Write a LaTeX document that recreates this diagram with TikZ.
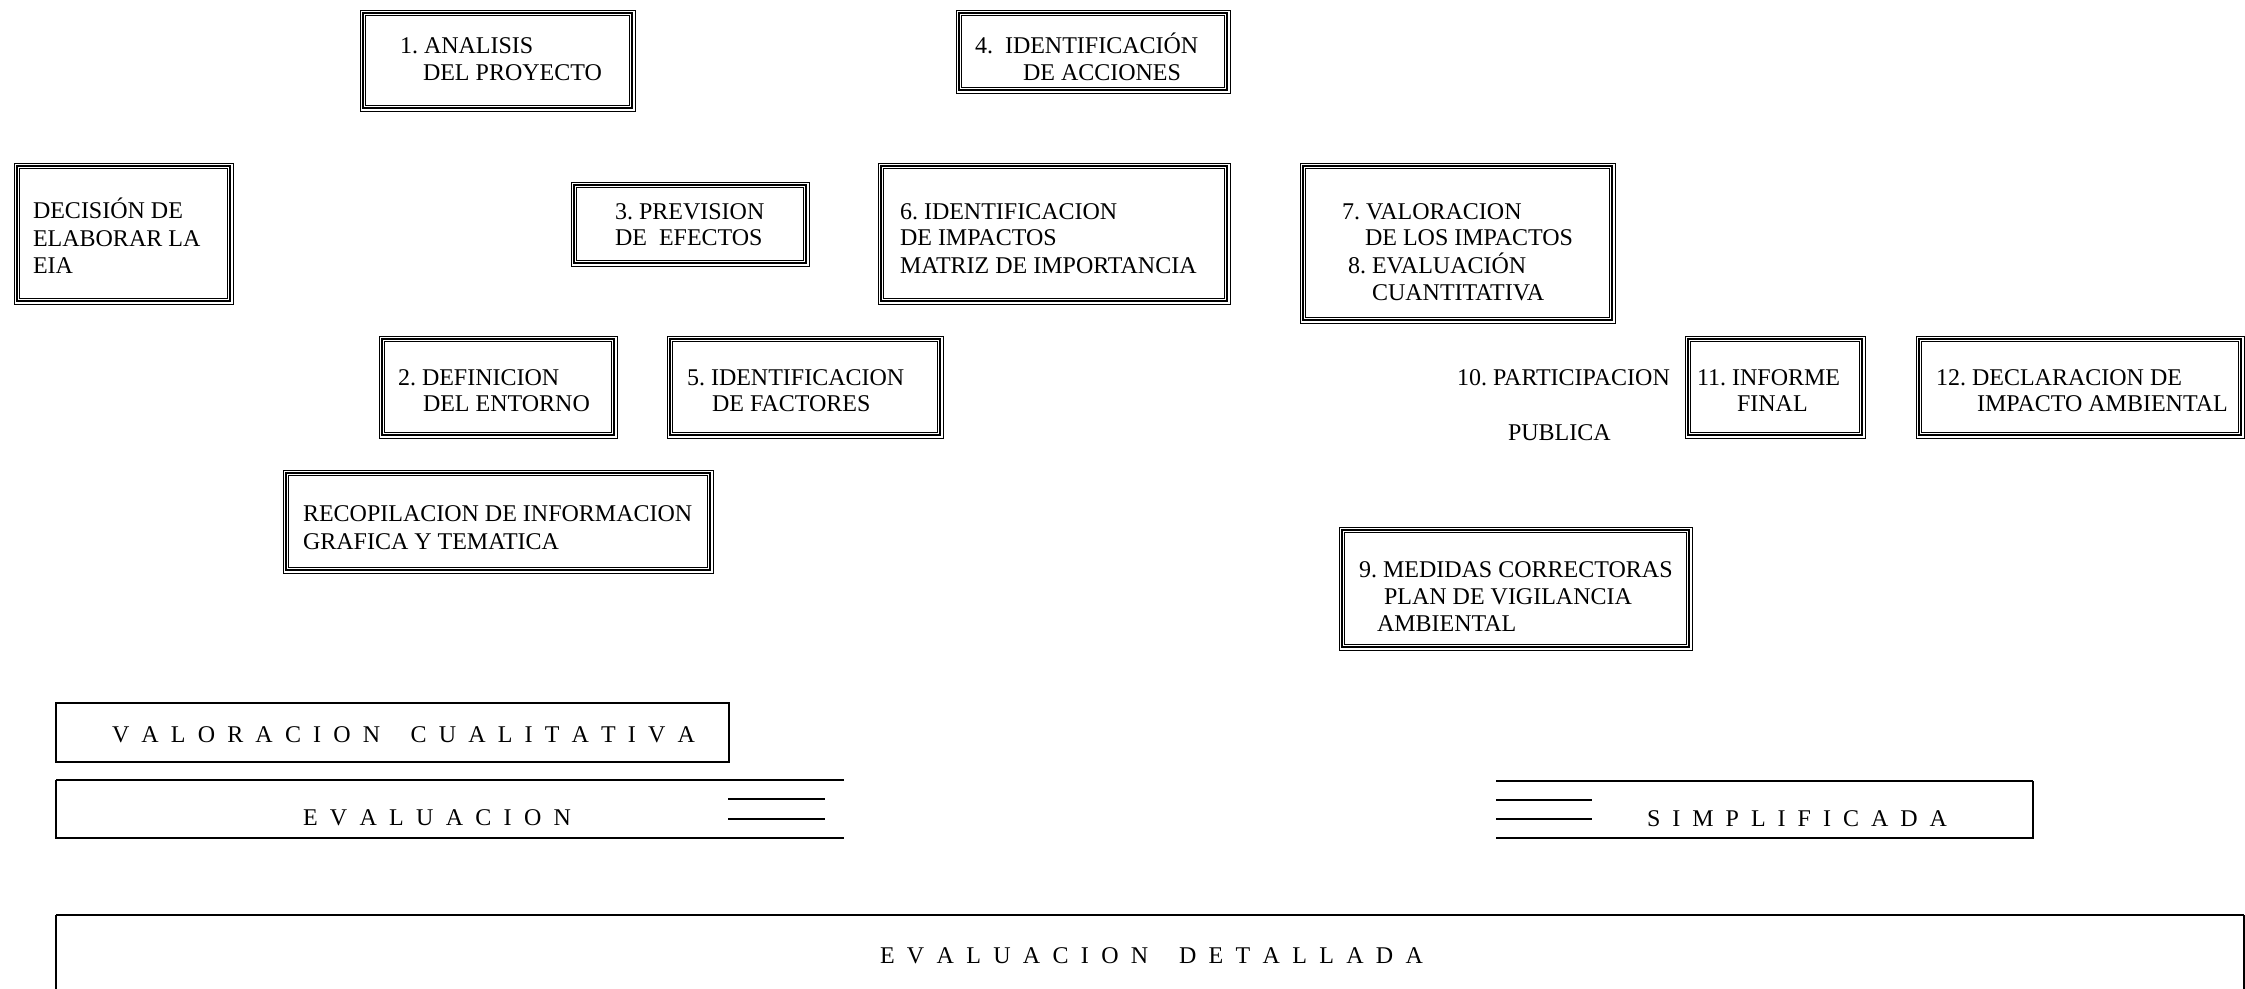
\documentclass[tikz,border=0pt]{standalone}
\usepackage{fontspec}
\setmainfont{Liberation Serif}
\tikzset{
  frameA/.style={draw, line width=1pt, inner sep=0pt, outer sep=0pt, anchor=north west},
  frameB/.style={line width=2.2pt},
  frameC/.style={line width=1pt},
  txt/.style={inner sep=0pt, outer sep=0pt, anchor=base west, font=\fontsize{24}{28}\selectfont\frenchspacing},
  bandthick/.style={line width=2pt},
  bandthin/.style={line width=1.4pt},
}
\newcommand\tribox[5]{%
  \node[frameA, minimum width={#4-#2}, minimum height={#5-#3}] (#1) at (#2,#3) {};
  \draw[frameB] ([shift={(2.7,2.7)}]#1.north west) rectangle ([shift={(-2.7,-2.7)}]#1.south east);
  \draw[frameC] ([shift={(5.8,5.8)}]#1.north west) rectangle ([shift={(-5.8,-5.8)}]#1.south east);
}
\newcommand\tln[4]{\node[txt] (#1) at (#2,#3+8) {#4};}
\newcommand\wgap{\hskip0pt plus 2.5fil\relax}
\begin{document}
\frenchspacing
\begin{tikzpicture}[x=1pt,y=-1pt]
\useasboundingbox (0,0) rectangle (2245,988);
\fill[white] (0,0) rectangle (2245,988);

% boxes
\tribox{b1}{360}{10}{635}{111}
\tln{b1a}{400}{45}{1. ANALISIS}
\tln{b1b}{423}{72}{DEL PROYECTO}

\tribox{b4}{956}{10}{1230}{93}
\tln{b4a}{975}{45}{4.\ \ IDENTIFICACIÓN}
\tln{b4b}{1023}{72}{DE ACCIONES}

\tribox{dec}{14}{163}{233}{304}
\tln{deca}{33}{210}{DECISIÓN DE}
\tln{decb}{33}{238}{ELABORAR LA}
\tln{decc}{33}{265}{EIA}

\tribox{b3}{571}{182}{809}{266}
\tln{b3a}{615}{211}{3. PREVISION}
\tln{b3b}{615}{237}{DE\ \ EFECTOS}

\tribox{b6}{878}{163}{1230}{304}
\tln{b6a}{900}{211}{6. IDENTIFICACION}
\tln{b6b}{900}{237}{DE IMPACTOS}
\tln{b6c}{900}{265}{MATRIZ DE IMPORTANCIA}

\tribox{b7}{1300}{163}{1615}{323}
\tln{b7a}{1342}{211}{7. VALORACION}
\tln{b7b}{1365}{237}{DE LOS IMPACTOS}
\tln{b7c}{1348}{265}{8. EVALUACIÓN}
\tln{b7d}{1372}{292}{CUANTITATIVA}

\tribox{b2}{379}{336}{617}{438}
\tln{b2a}{398}{377}{2. DEFINICION}
\tln{b2b}{423}{403}{DEL ENTORNO}

\tribox{b5}{667}{336}{943}{438}
\tln{b5a}{687}{377}{5. IDENTIFICACION}
\tln{b5b}{712}{403}{DE FACTORES}

\tln{p10a}{1457}{377}{10. PARTICIPACION}
\tln{p10b}{1508}{432}{PUBLICA}

\tribox{b11}{1685}{336}{1865}{438}
\tln{b11a}{1697}{377}{11. INFORME}
\tln{b11b}{1737}{403}{FINAL}

\tribox{b12}{1916}{336}{2244}{438}
\tln{b12a}{1936}{377}{12. DECLARACION DE}
\tln{b12b}{1977}{403}{IMPACTO AMBIENTAL}

\tribox{rec}{283}{470}{713}{573}
\tln{reca}{303}{513}{RECOPILACION DE INFORMACION}
\tln{recb}{303}{541}{GRAFICA Y TEMATICA}

\tribox{b9}{1339}{527}{1692}{650}
\tln{b9a}{1359}{569}{9. MEDIDAS CORRECTORAS}
\tln{b9b}{1384}{596}{PLAN DE VIGILANCIA}
\tln{b9c}{1377}{623}{AMBIENTAL}

% valoracion cualitativa
\node[draw, line width=1.4pt, inner sep=0pt, outer sep=0pt, anchor=north west,
      minimum width=673, minimum height=59] (valbox) at (56,703) {};
\node[txt] (valtxt) at (112,742) {\hbox to 583pt{V\hfil A\hfil L\hfil O\hfil R\hfil A\hfil C\hfil I\hfil O\hfil N\wgap C\hfil U\hfil A\hfil L\hfil I\hfil T\hfil A\hfil T\hfil I\hfil V\hfil A}};

% evaluacion
\coordinate (evA) at (844,780);
\coordinate (evB) at (56,780);
\coordinate (evC) at (56,838);
\coordinate (evD) at (844,838);
\draw[bandthick] (evA) -- (evB);
\draw[bandthin] (evB) -- (evC) -- (evD);
\coordinate (evs1a) at (728,799); \coordinate (evs1b) at (825,799);
\coordinate (evs2a) at (728,819); \coordinate (evs2b) at (825,819);
\draw[bandthick] (evs1a) -- (evs1b);
\draw[bandthick] (evs2a) -- (evs2b);
\node[txt] (evtxt) at (303,825) {\hbox to 268pt{E\hfil V\hfil A\hfil L\hfil U\hfil A\hfil C\hfil I\hfil O\hfil N}};

% simplificada
\coordinate (siA) at (1496,781);
\coordinate (siB) at (2033,781);
\coordinate (siC) at (2033,838);
\coordinate (siD) at (1496,838);
\draw[bandthick] (siA) -- (siB);
\draw[bandthin] (siB) -- (siC) -- (siD);
\coordinate (sis1a) at (1496,800); \coordinate (sis1b) at (1592,800);
\coordinate (sis2a) at (1496,819); \coordinate (sis2b) at (1592,819);
\draw[bandthick] (sis1a) -- (sis1b);
\draw[bandthick] (sis2a) -- (sis2b);
\node[txt] (sitxt) at (1647,826) {\hbox to 300pt{S\hfil I\hfil M\hfil P\hfil L\hfil I\hfil F\hfil I\hfil C\hfil A\hfil D\hfil A}};

% evaluacion detallada
\coordinate (deA) at (56,990);
\coordinate (deB) at (56,915);
\coordinate (deC) at (2244,915);
\coordinate (deD) at (2244,990);
\draw[bandthick] (deB) -- (deC);
\draw[bandthin] (deA) -- (deB);
\draw[bandthin] (deC) -- (deD);
\node[txt] (detxt) at (880,963) {\hbox to 543pt{E\hfil V\hfil A\hfil L\hfil U\hfil A\hfil C\hfil I\hfil O\hfil N\wgap D\hfil E\hfil T\hfil A\hfil L\hfil L\hfil A\hfil D\hfil A}};
\end{tikzpicture}
\end{document}
